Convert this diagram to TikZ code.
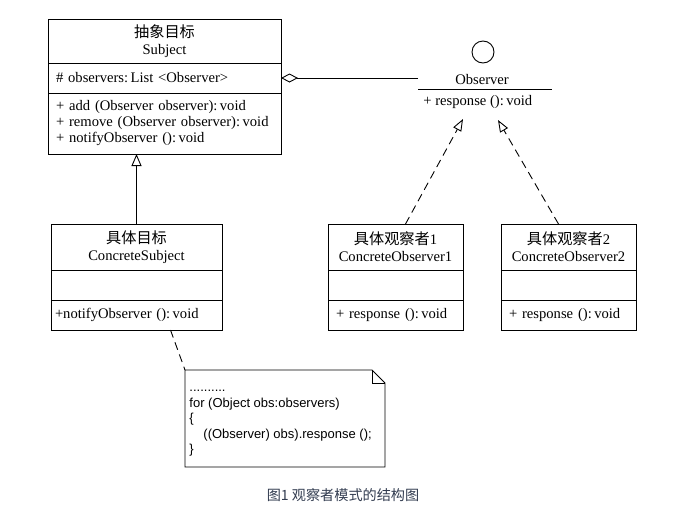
\documentclass[tikz,border=0pt]{standalone}
\usepackage{fontspec}
\setmainfont{Liberation Serif}
\newfontfamily\cjk{Noto Sans CJK SC}[Scale=1.04]
\newfontfamily\codefont{Liberation Sans}
\usepackage{xcolor}
\usepackage{tikz}
\usetikzlibrary{arrows.meta, positioning}
\definecolor{capblue}{RGB}{50,60,80}

\begin{document}
\begin{tikzpicture}[x=1pt, y=-1pt, line width=0.9pt,
	font=\fontsize{14.6}{17}\selectfont,
	box/.style={draw, text width=#1, inner xsep=8pt, inner ysep=0pt, outer sep=0pt},
	head/.style={align=center, minimum height=#1},
	part/.style={align=left, minimum height=#1},
	gen/.style={-{Triangle[open, length=12pt, width=10pt]}},
	real/.style={dash pattern=on 8pt off 5pt, -{Triangle[open, length=12pt, width=9pt]}},
	aggr/.style={-{Diamond[open, length=17pt, width=9pt]}},
	link/.style={dash pattern=on 8pt off 5pt},
	code/.style={font=\codefont\fontsize{13}{15.5}\selectfont, align=left, anchor=north west, inner sep=0pt},
	caption/.style={font=\cjk\fontsize{13.6}{15}\selectfont, text=capblue}
]

	\useasboundingbox (0,0) rectangle (693,517);

	\node[box=217pt, head=44pt, anchor=north] (stitle) at (164.5,19) {{\cjk 抽象目标}\\Subject};
	\node[box=217pt, part=30pt, below=0pt of stitle] (sattr) {\# observers:\,List <Observer>};
	\node[box=217pt, part=61pt, below=0pt of sattr, font=\fontsize{14.6}{16}\selectfont] (sops) {+ add (Observer observer):\,void\\+ remove (Observer observer):\,void\\+ notifyObserver ():\,void};

	\node[box=155pt, head=46pt, anchor=north] (cstitle) at (136.5,224) {{\cjk 具体目标}\\ConcreteSubject};
	\node[box=155pt, part=30pt, below=0pt of cstitle] (csattr) {};
	\node[box=155pt, part=30pt, below=0pt of csattr, inner xsep=4pt, text width=163pt] (csops) {+notifyObserver ():\,void};

	\node[box=119pt, head=46pt, anchor=north] (co1title) at (395.5,224) {{\cjk 具体观察者}1\\ConcreteObserver1};
	\node[box=119pt, part=30pt, below=0pt of co1title] (co1attr) {};
	\node[box=119pt, part=30pt, below=0pt of co1attr] (co1ops) {+ response ():\,void};

	\node[box=119pt, head=46pt, anchor=north] (co2title) at (568.5,224) {{\cjk 具体观察者}2\\ConcreteObserver2};
	\node[box=119pt, part=30pt, below=0pt of co2title] (co2attr) {};
	\node[box=119pt, part=30pt, below=0pt of co2attr] (co2ops) {+ response ():\,void};

	\node[circle, draw, minimum size=22pt, inner sep=0pt] (ifc) at (483,52) {};
	\node[anchor=base] (oname) at (482,84) {Observer};
	\coordinate (ol) at (418,89);
	\coordinate (or) at (552,89);
	\draw (ol) -- (or);
	\node[anchor=base west, inner sep=0pt] (oops) at (423,105) {+ response ():\,void};

	\coordinate (agg) at (418,78);
	\coordinate (r1) at (463,119);
	\coordinate (r2) at (498,120);

	\draw[aggr] (agg) -- (sattr.east);
	\draw[gen] (cstitle.north) -- (cstitle.north |- sops.south);
	\draw[real] ([xshift=10pt]co1title.north) -- (r1);
	\draw[real] ([xshift=-10pt]co2title.north) -- (r2);

	\node[minimum width=200pt, minimum height=97pt, inner sep=0pt, outer sep=0pt] (note) at (285,418.5) {};
	\draw (note.north west) -- ([xshift=-13pt]note.north east) -- ([yshift=-13pt]note.north east) -- (note.south east) -- (note.south west) -- cycle;
	\draw ([xshift=-13pt]note.north east) -- ([xshift=-13pt, yshift=-13pt]note.north east) -- ([yshift=-13pt]note.north east);
	\node[code] (codetxt) at ([xshift=4pt, yshift=-20pt]note.north west) {..........\\for (Object obs:observers)\\\{\\\hspace*{14pt}((Observer) obs).response ();\\\}};
	\draw[link] ([xshift=34pt]csops.south) -- (note.north west);

	\node[caption] (cap) at (343,495) {图1 观察者模式的结构图};

\end{tikzpicture}
\end{document}
